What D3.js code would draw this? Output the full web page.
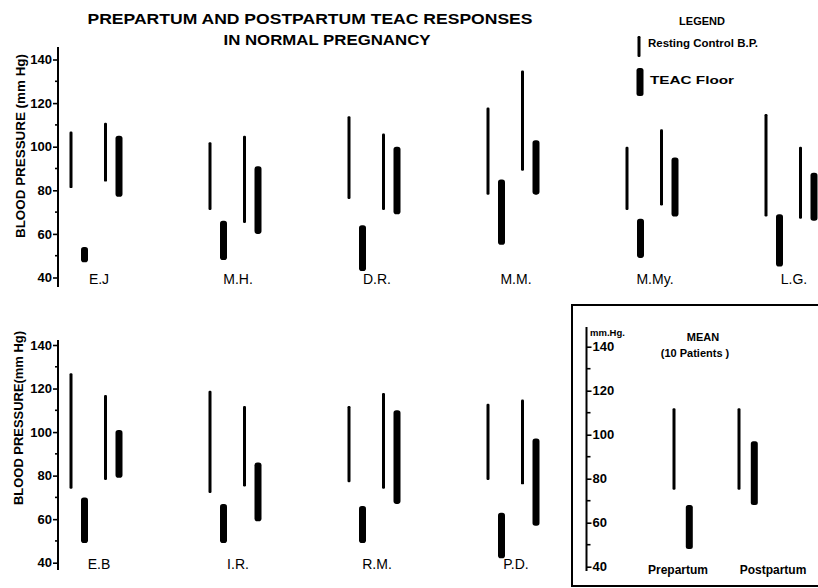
<!DOCTYPE html>
<html><head><meta charset="utf-8">
<script src="https://cdn.jsdelivr.net/npm/d3@7"></script>
<style>body{margin:0;background:#fff}svg{display:block}</style>
</head><body><svg id="c" width="818" height="588"></svg>
<script>
// ---- data ----
const topPatients = ["E.J","M.H.","D.R.","M.M.","M.My.","L.G."];
const topPrepRest = [[81,107],[71,102],[76,114],[78,118],[71,100],[68,115]];
const topPrepTeac = [[47,54],[48,66],[43,64],[55,85],[49,67],[45,69]];
const topPostRest = [[84,111],[65,105],[71,106],[89,135],[73,108],[67,100]];
const topPostTeac = [[77,105],[60,91],[69,100],[78,103],[68,95],[66,88]];

const botPatients = ["E.B","I.R.","R.M.","P.D."];
const botPrepRest = [[74,127],[72,119],[77,112],[78,113]];
const botPrepTeac = [[49,70],[49,67],[49,66],[42,63]];
const botPostRest = [[78,117],[75,112],[74,118],[76,115]];
const botPostTeac = [[79,101],[59,86],[67,110],[57,97]];

const meanPeriods = ["Prepartum","Postpartum"];
const meanRest = [[75,112],[75,112]];
const meanTeac = [[48,68],[68,97]];

const yTicks = [40,60,80,100,120,140];
const yMinor = [50,70,90,110,130];

// ---- drawing ----
const svg = d3.select("#c");
const ink = "#000";
const fontAxis = "'Liberation Sans', Arial, sans-serif";

const kinds = ["prepRest","prepTeac","postRest","postTeac"];
const sub = d3.scaleOrdinal().domain(kinds).range([0,13.5,34.5,48]);
const kindWidth = {prepRest:3, prepTeac:7, postRest:3, postTeac:7};

function drawAxisLeft(y, x0, yTop, yBot){
  const g = svg.append("g").attr("transform",`translate(${x0},0)`);
  const ax = d3.axisLeft(y).tickValues(yTicks).tickSize(5).tickPadding(1).tickFormat(d3.format("d"));
  g.call(ax);
  g.select(".domain").remove();
  g.append("line").attr("x1",0).attr("x2",0).attr("y1",yTop).attr("y2",yBot).attr("stroke",ink).attr("stroke-width",2);
  g.selectAll(".tick line").attr("stroke",ink).attr("stroke-width",1.6);
  g.selectAll(".tick text").attr("fill",ink).attr("font-family",fontAxis).attr("font-weight","bold").attr("font-size",13);
  g.selectAll(".minor").data(yMinor).enter().append("line").attr("class","minor")
    .attr("x1",-3).attr("x2",0).attr("y1",d=>y(d)).attr("y2",d=>y(d)).attr("stroke",ink).attr("stroke-width",1.6);
}

function drawBars(names, series, x, y){
  kinds.forEach((k,ki)=>{
    const w = kindWidth[k];
    svg.append("g").selectAll("rect").data(series[ki]).enter().append("rect")
      .attr("x",(d,i)=>x(i)+sub(k)-w/2)
      .attr("width",w)
      .attr("y",d=>y(d[1]))
      .attr("height",d=>y(d[0])-y(d[1]))
      .attr("rx",w/2.5).attr("fill",ink);
  });
}

function drawNames(names, x, yPos){
  svg.append("g").selectAll("text").data(names).enter().append("text")
    .attr("x",(d,i)=>x(i)+28).attr("y",yPos)
    .attr("text-anchor","middle").attr("font-family",fontAxis).attr("font-size",14)
    .attr("fill",ink).text(d=>d);
}

const xIdx = d3.scaleLinear().domain([0,1]).range([71,210]);

// top row
const yTop = d3.scaleLinear().domain([40,140]).range([277.5,59.5]);
drawAxisLeft(yTop, 58, 47, 287);
drawBars(topPatients,[topPrepRest,topPrepTeac,topPostRest,topPostTeac], xIdx, yTop);
drawNames(topPatients, xIdx, 284);

// bottom row
const yBot = d3.scaleLinear().domain([40,140]).range([562.7,345]);
drawAxisLeft(yBot, 58, 340, 570);
drawBars(botPatients,[botPrepRest,botPrepTeac,botPostRest,botPostTeac], xIdx, yBot);
drawNames(botPatients, xIdx, 569);

// y labels
svg.append("text").attr("transform","translate(25,146) rotate(-90)").attr("text-anchor","middle")
  .attr("font-family",fontAxis).attr("font-weight","bold").attr("font-size",12).attr("fill",ink)
  .attr("textLength",184).attr("lengthAdjust","spacingAndGlyphs")
  .text("BLOOD PRESSURE (mm Hg)");
svg.append("text").attr("transform","translate(23,418) rotate(-90)").attr("text-anchor","middle")
  .attr("font-family",fontAxis).attr("font-weight","bold").attr("font-size",12).attr("fill",ink)
  .attr("textLength",174).attr("lengthAdjust","spacingAndGlyphs")
  .text("BLOOD PRESSURE(mm Hg)");

// title
svg.append("text").attr("x",310).attr("y",24).attr("text-anchor","middle")
  .attr("font-family",fontAxis).attr("font-weight","bold").attr("font-size",15).attr("fill",ink)
  .attr("textLength",445).attr("lengthAdjust","spacingAndGlyphs")
  .text("PREPARTUM  AND  POSTPARTUM  TEAC  RESPONSES");
svg.append("text").attr("x",327).attr("y",45).attr("text-anchor","middle")
  .attr("font-family",fontAxis).attr("font-weight","bold").attr("font-size",15).attr("fill",ink)
  .attr("textLength",207).attr("lengthAdjust","spacingAndGlyphs")
  .text("IN NORMAL  PREGNANCY");

// legend
svg.append("text").attr("x",702).attr("y",25).attr("text-anchor","middle")
  .attr("font-family",fontAxis).attr("font-weight","bold").attr("font-size",11).attr("fill",ink).text("LEGEND");
svg.append("rect").attr("x",637.5).attr("y",36).attr("width",3).attr("height",21).attr("rx",1.2).attr("fill",ink);
svg.append("text").attr("x",648).attr("y",47)
  .attr("font-family",fontAxis).attr("font-weight","bold").attr("font-size",10).attr("fill",ink)
  .attr("textLength",110).attr("lengthAdjust","spacingAndGlyphs").text("Resting Control B.P.");
svg.append("rect").attr("x",636.5).attr("y",68).attr("width",7).attr("height",28).attr("rx",2.5).attr("fill",ink);
svg.append("text").attr("x",650).attr("y",84)
  .attr("font-family",fontAxis).attr("font-weight","bold").attr("font-size",11).attr("fill",ink)
  .attr("textLength",84).attr("lengthAdjust","spacingAndGlyphs").text("TEAC   Floor");

// mean box
svg.append("rect").attr("x",572).attr("y",305).attr("width",260).attr("height",281)
  .attr("fill","none").attr("stroke",ink).attr("stroke-width",2);
const yMean = d3.scaleLinear().domain([40,140]).range([566.7,346.7]);
const gm = svg.append("g").attr("transform","translate(586.5,0)");
gm.call(d3.axisRight(yMean).tickValues(yTicks).tickSize(5).tickPadding(1).tickFormat(d3.format("d")));
gm.select(".domain").remove();
gm.append("line").attr("x1",0).attr("x2",0).attr("y1",327).attr("y2",571).attr("stroke",ink).attr("stroke-width",2);
gm.selectAll(".tick line").attr("stroke",ink).attr("stroke-width",1.6);
gm.selectAll(".tick text").attr("fill",ink).attr("font-family",fontAxis).attr("font-weight","bold").attr("font-size",13);
gm.selectAll(".minor").data(yMinor).enter().append("line").attr("class","minor")
  .attr("x1",0).attr("x2",4).attr("y1",d=>yMean(d)).attr("y2",d=>yMean(d)).attr("stroke",ink).attr("stroke-width",1.6);
svg.append("text").attr("x",590).attr("y",335.5).attr("font-family",fontAxis).attr("font-weight","bold")
  .attr("font-size",9.5).attr("fill",ink).text("mm.Hg.");
svg.append("text").attr("x",703).attr("y",341).attr("text-anchor","middle").attr("font-family",fontAxis).attr("font-weight","bold")
  .attr("font-size",11).attr("fill",ink).text("MEAN");
svg.append("text").attr("x",695).attr("y",357).attr("text-anchor","middle").attr("font-family",fontAxis).attr("font-weight","bold")
  .attr("font-size",11).attr("fill",ink).text("(10 Patients )");

const xMean = d3.scalePoint().domain(meanPeriods).range([674,739]);
const mSub = {rest:0, teac:15.3};
svg.append("g").selectAll("rect").data(meanRest).enter().append("rect")
  .attr("x",(d,i)=>xMean(meanPeriods[i])+mSub.rest-1.5).attr("width",3)
  .attr("y",d=>yMean(d[1])).attr("height",d=>yMean(d[0])-yMean(d[1])).attr("rx",1.2).attr("fill",ink);
svg.append("g").selectAll("rect").data(meanTeac).enter().append("rect")
  .attr("x",(d,i)=>xMean(meanPeriods[i])+mSub.teac-3.5).attr("width",7)
  .attr("y",d=>yMean(d[1])).attr("height",d=>yMean(d[0])-yMean(d[1])).attr("rx",2.5).attr("fill",ink);
svg.append("g").selectAll("text").data(meanPeriods).enter().append("text")
  .attr("x",(d,i)=>xMean(d)+[4,34][i]).attr("y",574).attr("text-anchor","middle")
  .attr("font-family",fontAxis).attr("font-weight","bold").attr("font-size",12).attr("fill",ink)
  .text(d=>d);
</script></body></html>
